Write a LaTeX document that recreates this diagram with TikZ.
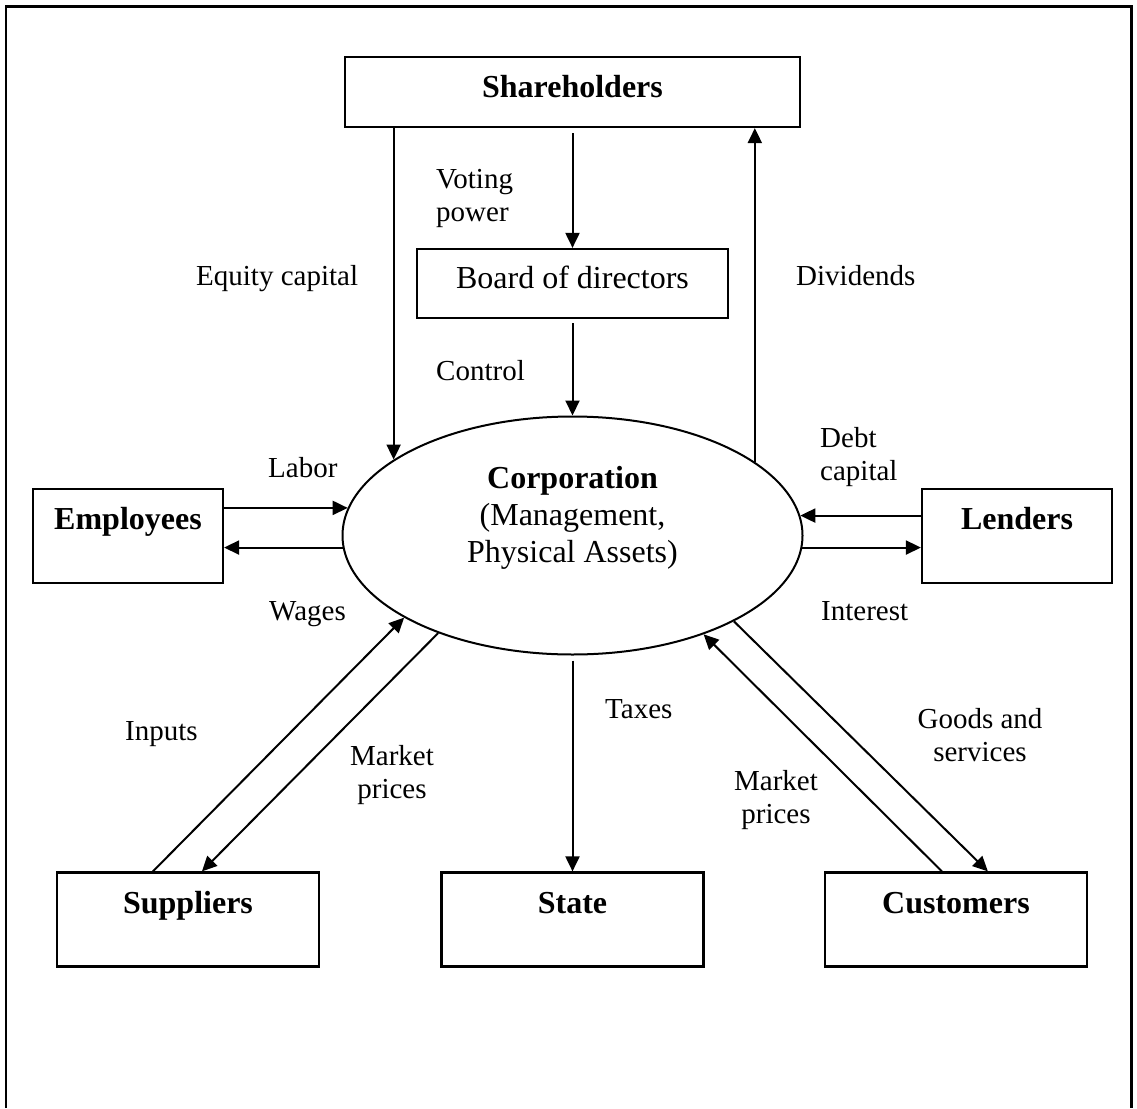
\documentclass[tikz,border=0pt]{standalone}
\usepackage{fontspec}
\setmainfont{Liberation Serif}
\usetikzlibrary{arrows.meta,shapes.geometric}
\begin{document}
\begin{tikzpicture}[x=1pt,y=-1pt,
  box/.style={draw, line width=2.2pt, inner sep=0pt, font=\fontsize{32}{37}\selectfont\bfseries},
  sidebox/.style={box, minimum width=190pt, minimum height=94pt, text height=22pt, text depth=36pt},
  lowbox/.style={box, minimum width=262pt, minimum height=94pt, text height=22pt, text depth=35pt},
  arr/.style={line width=2pt, -{Triangle[length=15pt,width=14pt]}},
  lbl/.style={inner sep=0pt, font=\fontsize{29}{33}\selectfont},
]
\useasboundingbox (0,0) rectangle (1137,1108);
\draw[line width=2.2pt] (6,1108) -- (6,6.5) -- (1131.5,6.5) -- (1131.5,1108);

% boxes
\node[box, minimum width=455pt, minimum height=70pt, text height=22pt, text depth=12pt] (sh) at (572.5,92) {Shareholders};
\node[box, font=\fontsize{32}{37}\selectfont, minimum width=311pt, minimum height=69pt, text height=22pt, text depth=13pt] (bd) at (572.5,283.5) {Board of directors};
\node[sidebox] (emp) at (128,536) {Employees};
\node[sidebox] (len) at (1017,536) {Lenders};
\node[lowbox] (sup) at (188,919.5) {Suppliers};
\node[lowbox] (st) at (572.5,919.5) {State};
\node[lowbox] (cus) at (956,919.5) {Customers};

% corporation ellipse
\node[draw, ellipse, line width=2pt, minimum width=460pt, minimum height=238pt, inner sep=0pt,
      font=\fontsize{32}{37}\selectfont, text height=26pt, text depth=121pt] (corp) at (572.5,535.5)
  {\begin{tabular}[t]{@{}c@{}}\textbf{Corporation}\\(Management,\\Physical Assets)\end{tabular}};

% labels
\node[lbl, anchor=base west] (lvote) at (436,188) {\begin{tabular}[t]{@{}l@{}}Voting\\power\end{tabular}};
\node[lbl, anchor=base west] (leq) at (196,285) {Equity capital};
\node[lbl, anchor=base west] (ldiv) at (796,285) {Dividends};
\node[lbl, anchor=base west] (lctl) at (436,380) {Control};
\node[lbl, anchor=base west] (llab) at (268,477) {Labor};
\node[lbl, anchor=base west] (lwag) at (269,620) {Wages};
\node[lbl, anchor=base west] (ldebt) at (820,447) {\begin{tabular}[t]{@{}l@{}}Debt\\capital\end{tabular}};
\node[lbl, anchor=base west] (lint) at (821,620) {Interest};
\node[lbl, anchor=base west] (linp) at (125,740) {Inputs};
\node[lbl, anchor=base] (lmp1) at (392,765) {\begin{tabular}[t]{@{}c@{}}Market\\prices\end{tabular}};
\node[lbl, anchor=base west] (ltax) at (605,718) {Taxes};
\node[lbl, anchor=base] (lgoods) at (980,728) {\begin{tabular}[t]{@{}c@{}}Goods and\\services\end{tabular}};
\node[lbl, anchor=base] (lmp2) at (776,790) {\begin{tabular}[t]{@{}c@{}}Market\\prices\end{tabular}};

% connectors
\draw[arr] (sh.south -| corp.157.33) -- (corp.157.33);
\draw[arr, shorten <=5pt] (sh.south) -- (bd.north);
\draw[arr, shorten <=4pt] (bd.south) -- (corp.north);
\draw[arr] (corp.22.4) -- (corp.22.4 |- sh.south);
\draw[arr] (emp.east |- corp.173.95) -- (corp.173.95);
\draw[arr] (corp.183.16) -- (corp.183.16 -| emp.east);
\draw[arr] (len.west |- corp.5.79) -- (corp.5.79);
\draw[arr] (corp.357.34) -- (corp.357.34 -| len.west);
\draw[arr, shorten <=5pt] (corp.south) -- (st.north);
\draw[arr] ([xshift=97pt]sup.north west) -- (corp.206.6);
\draw[arr] (corp.216.6) -- ([xshift=146pt]sup.north west);
\draw[arr] ([xshift=118pt]cus.north west) -- (corp.323.4);
\draw[arr] (corp.332.8) -- ([xshift=164pt]cus.north west);
\end{tikzpicture}
\end{document}
